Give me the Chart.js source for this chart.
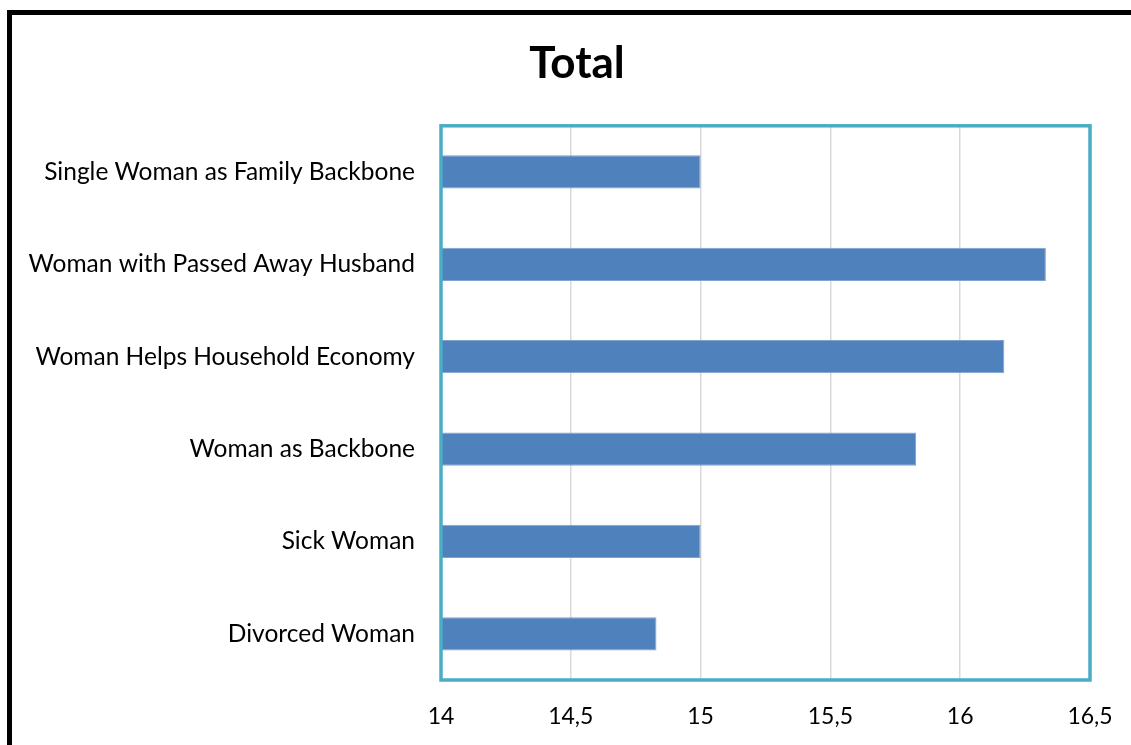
<!DOCTYPE html>
<html>
<head>
<meta charset="utf-8">
<script src="https://cdn.jsdelivr.net/npm/chart.js@4"></script>
<style>
    html, body { margin: 0; padding: 0; background: #fff; overflow: hidden; }
    body { width: 1131px; height: 745px; position: relative; }
    .frame {
        position: absolute; left: 7px; top: 10px;
        width: 1200px; height: 800px;
        border-left: 5px solid #000; border-top: 5px solid #000;
    }
    .chart-box { position: absolute; left: 0; top: 0; width: 1130px; height: 730px; }
</style>
</head>
<body>
<div class="frame">
    <div class="chart-box"><canvas id="barChart"></canvas></div>
</div>
<script>
// categories, top to bottom
const categories = [
    'Single Woman as Family Backbone',
    'Woman with Passed Away Husband',
    'Woman Helps Household Economy',
    'Woman as Backbone',
    'Sick Woman',
    'Divorced Woman'
];
const totals = [15.0, 16.33, 16.17, 15.83, 15.0, 14.83];
const xTickValues = [14, 14.5, 15, 15.5, 16, 16.5];

const FONT = 'Lato, "Open Sans", sans-serif';

// plot area frame (teal box round the chart area)
const plotFrame = {
    id: 'plotFrame',
    afterLayout(chart) {
        // centre the title on the whole canvas, not just up to the plot's right edge
        if (chart.titleBlock) chart.titleBlock.right = chart.width;
    },
    afterDraw(chart) {
        const { ctx, chartArea: a } = chart;
        ctx.save();
        ctx.strokeStyle = '#4bacc6';
        ctx.lineWidth = 3.5;
        ctx.strokeRect(a.left, a.top, a.right - a.left, a.bottom - a.top);
        ctx.restore();
    }
};

new Chart(document.getElementById('barChart'), {
    type: 'bar',
    data: {
        labels: categories,
        datasets: [{
            data: totals,
            backgroundColor: '#4f81bd',
            borderColor: '#7fa2d0',
            borderWidth: 1,
            borderSkipped: 'left',
            barPercentage: 0.36,
            categoryPercentage: 1
        }]
    },
    options: {
        indexAxis: 'y',
        responsive: true,
        maintainAspectRatio: false,
        animation: false,
        layout: { padding: { left: 0, right: 52, top: 0, bottom: 0 } },
        plugins: {
            legend: { display: false },
            tooltip: { enabled: false },
            title: {
                display: true,
                text: 'Total',
                color: '#000',
                font: { family: FONT, size: 44, weight: 'bold' },
                padding: { top: 22, bottom: 36 }
            }
        },
        scales: {
            x: {
                min: xTickValues[0],
                max: xTickValues[xTickValues.length - 1],
                afterBuildTicks: scale => { scale.ticks = xTickValues.map(v => ({ value: v })); },
                afterFit: scale => { scale.height = 65; },
                border: { display: false },
                grid: { color: '#d9d9d9', lineWidth: 1.5, drawTicks: false },
                ticks: {
                    padding: 23,
                    color: '#000',
                    font: { family: FONT, size: 23 },
                    callback: v => String(v).replace('.', ',')
                }
            },
            y: {
                afterFit: scale => { scale.width = 429; },
                border: { display: false },
                grid: { display: false, drawTicks: false },
                ticks: {
                    padding: 26,
                    color: '#000',
                    font: { family: FONT, size: 24.5 }
                }
            }
        }
    },
    plugins: [plotFrame]
});
</script>
</body>
</html>
